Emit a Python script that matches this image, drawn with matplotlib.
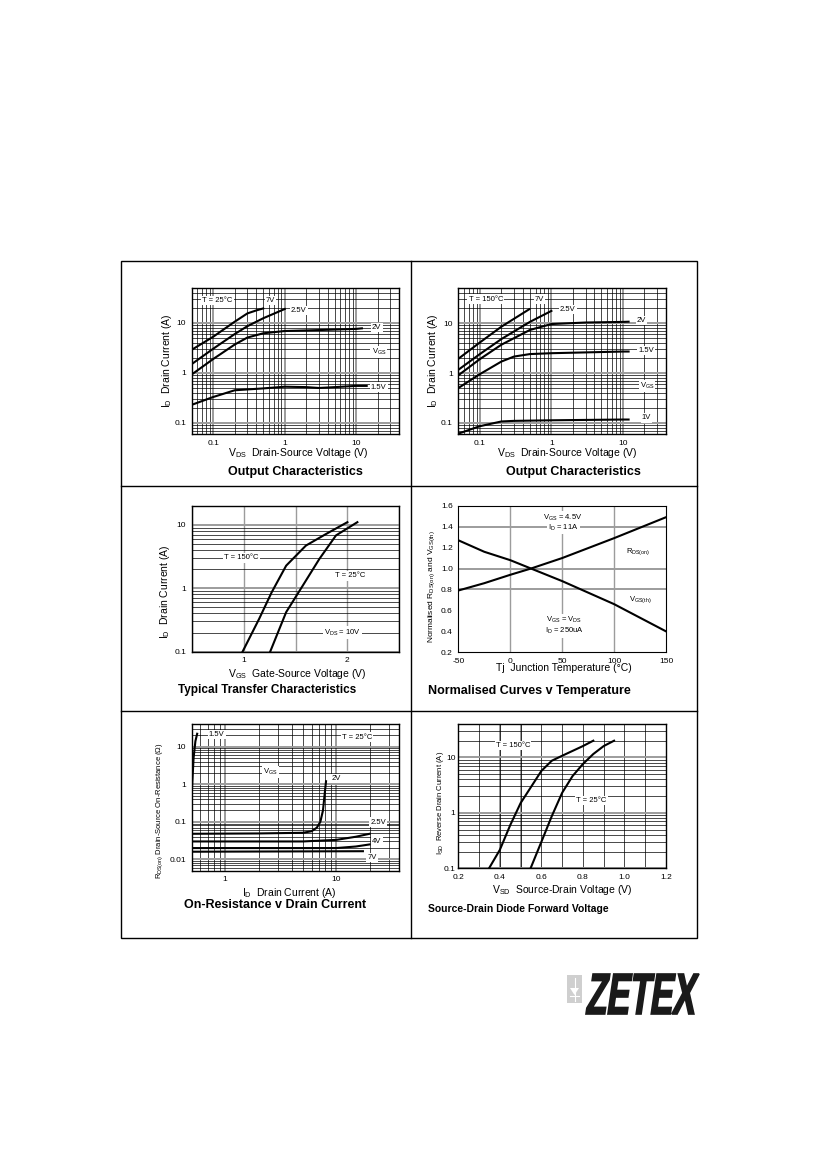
import numpy as np
import matplotlib
matplotlib.use('Agg')
import matplotlib.pyplot as plt
from matplotlib.ticker import LogLocator, NullFormatter, MultipleLocator
from matplotlib.textpath import TextPath
from matplotlib.patches import PathPatch, Rectangle, Polygon
from matplotlib.font_manager import FontProperties
from matplotlib.transforms import Affine2D

plt.rcParams['font.family'] = ['Liberation Sans', 'DejaVu Sans']
plt.rcParams['mathtext.fontset'] = 'custom'
plt.rcParams['mathtext.rm'] = 'Liberation Sans'
plt.rcParams['mathtext.default'] = 'regular'
plt.rcParams['axes.unicode_minus'] = False

# ---- Output characteristics, T = 25C ----
out25_7v_x = [0.05, 0.1, 0.2, 0.3, 0.4, 0.5]
out25_7v_y = [2.9, 5.3, 10.6, 15.5, 17.8, 19.5]
out25_25v_x = [0.05, 0.1, 0.2, 0.3, 0.5, 1.0]
out25_25v_y = [1.5, 3.05, 6.0, 8.6, 12.4, 19.0]
out25_2v_x = [0.05, 0.1, 0.2, 0.3, 0.5, 1.0, 3.0, 10.0, 12.0]
out25_2v_y = [0.93, 1.9, 3.7, 5.1, 6.2, 6.9, 7.2, 7.6, 7.8]
out25_15v_x = [0.05, 0.1, 0.2, 0.5, 1.0, 2.0, 3.0, 5.0, 10.0, 14.0]
out25_15v_y = [0.23, 0.33, 0.45, 0.49, 0.53, 0.52, 0.50, 0.52, 0.55, 0.55]

# ---- Output characteristics, T = 150C ----
out150_7v_x = [0.05, 0.1, 0.2, 0.49]
out150_7v_y = [1.93, 4.1, 8.5, 19.0]
out150_25v_x = [0.05, 0.1, 0.2, 0.5, 1.0]
out150_25v_y = [1.16, 2.4, 4.8, 10.6, 17.6]
out150_2v_x = [0.05, 0.1, 0.2, 0.5, 1.0, 3.0, 10.0, 12.0]
out150_2v_y = [0.9, 1.9, 3.7, 7.3, 9.6, 10.3, 10.6, 10.7]
out150_15v_x = [0.05, 0.1, 0.2, 0.3, 0.5, 1.0, 10.0, 12.0]
out150_15v_y = [0.5, 0.95, 1.7, 2.14, 2.4, 2.5, 2.7, 2.7]
out150_1v_x = [0.05, 0.1, 0.2, 0.3, 1.0, 10.0, 12.0]
out150_1v_y = [0.061, 0.086, 0.107, 0.11, 0.113, 0.117, 0.117]

# ---- Transfer characteristics ----
tr150_vgs = [0.99, 1.15, 1.27, 1.41, 1.6, 1.79, 2.0]
tr150_id = [0.1, 0.33, 0.86, 2.27, 4.7, 7.1, 11.0]
tr25_vgs = [1.256, 1.41, 1.57, 1.73, 1.89, 2.096]
tr25_id = [0.1, 0.42, 1.1, 2.9, 6.8, 11.0]

# ---- Normalised curves v temperature ----
tj = [-50, -25, 0, 20, 50, 100, 150]
rds_norm = [0.79, 0.86, 0.94, 1.0, 1.1, 1.29, 1.49]
vth_norm = [1.27, 1.16, 1.08, 1.0, 0.88, 0.66, 0.40]

# ---- On-resistance v drain current ----
ron_15v_id = [0.5, 0.52, 0.54, 0.56]
ron_15v_r = [0.55, 5.0, 14.0, 22.0]
ron_2v_id = [0.5, 2.0, 5.0, 6.0, 6.7, 7.2, 7.6, 7.9, 8.1]
ron_2v_r = [0.048, 0.049, 0.051, 0.056, 0.07, 0.1, 0.2, 0.6, 1.2]
ron_25v_id = [0.5, 5.0, 10.0, 15.0, 20.0]
ron_25v_r = [0.03, 0.03, 0.033, 0.04, 0.048]
ron_4v_id = [0.5, 10.0, 15.0, 20.0]
ron_4v_r = [0.02, 0.02, 0.022, 0.025]
ron_7v_id = [0.5, 17.4]
ron_7v_r = [0.016, 0.0165]

# ---- Source-drain diode forward voltage ----
sd150_v = [0.348, 0.4, 0.45, 0.5, 0.6, 0.65, 0.7, 0.8, 0.85]
sd150_i = [0.1, 0.215, 0.6, 1.5, 5.7, 8.7, 10.7, 16.0, 20.0]
sd25_v = [0.548, 0.6, 0.65, 0.7, 0.75, 0.8, 0.85, 0.9, 0.95]
sd25_i = [0.1, 0.3, 0.87, 2.3, 4.6, 7.6, 11.5, 16.0, 20.0]

W, H = 827, 1169
fig = plt.figure(figsize=(W / 100, H / 100), dpi=100)

def box(l, t, r, b):
    return [l / W, 1 - b / H, (r - l) / W, (b - t) / H]

def ftext(x, y, s, **kw):
    fig.text(x / W, 1 - y / H, s, **kw)

LW = 1.5
GRAY = '#9c9c9c'
TICK = 6
lab = dict(fontsize=5.5, ha='center', va='center',
           bbox=dict(boxstyle='square,pad=0.15', fc='white', ec='none'))

def style_log(ax, logx=True):
    ax.set_yscale('log')
    ax.yaxis.set_minor_locator(LogLocator(base=10, subs=np.arange(2, 10)))
    ax.yaxis.set_minor_formatter(NullFormatter())
    if logx:
        ax.set_xscale('log')
        ax.xaxis.set_minor_locator(LogLocator(base=10, subs=np.arange(2, 10)))
        ax.xaxis.set_minor_formatter(NullFormatter())
    ax.grid(which='minor', color='black', lw=0.5)
    ax.grid(which='major', color=GRAY, lw=1.4)
    ax.set_axisbelow(True)
    ax.tick_params(which='both', length=0, labelsize=TICK, pad=4)
    for s in ax.spines.values():
        s.set_linewidth(1.0)

# background: frame + logo
bg = fig.add_axes([0, 0, 1, 1], zorder=-5)
bg.set_xlim(0, W)
bg.set_ylim(H, 0)
bg.axis('off')
bg.add_patch(Rectangle((121, 261), 576, 677, fill=False, ec='black', lw=1.0))
bg.plot([410.5, 410.5], [261, 938], color='black', lw=1.0)
bg.plot([121, 697], [486, 486], color='black', lw=1.0)
bg.plot([121, 697], [711, 711], color='black', lw=1.0)

# ---------- panel 1 ----------
ax1 = fig.add_axes(box(191.7, 288, 399.3, 434))
style_log(ax1)
ax1.plot(out25_7v_x, out25_7v_y, color='black', lw=LW)
ax1.plot(out25_25v_x, out25_25v_y, color='black', lw=LW)
ax1.plot(out25_2v_x, out25_2v_y, color='black', lw=LW)
ax1.plot(out25_15v_x, out25_15v_y, color='black', lw=LW)
ax1.set_xlim(0.05, 40)
ax1.set_ylim(0.06, 50)
ax1.set_xticks([0.1, 1, 10], ['0.1', '1', '10'])
ax1.set_yticks([0.1, 1, 10], ['0.1', '1', '10'])
ax1.text(0.114, 28, 'T = 25°C', **lab)
ax1.text(0.635, 28, '7V', **lab)
ax1.text(1.58, 17.7, '2.5V', **lab)
ax1.text(19.3, 8.2, '2V', **lab)
ax1.text(20.7, 2.63, 'V$_{GS}$', **lab)
ax1.text(20.7, 0.52, '1.5V', **lab)
ftext(298, 453, 'V$_{DS}$  Drain-Source Voltage (V)', fontsize=7.5, ha='center', va='center')
ftext(295, 471.5, 'Output Characteristics', fontsize=9, fontweight='bold', ha='center', va='center')
ftext(166.7, 361, 'I$_{D}$  Drain Current (A)', fontsize=7.5, rotation=90, ha='center', va='center')

# ---------- panel 2 ----------
ax2 = fig.add_axes(box(458.3, 288.3, 666, 434))
style_log(ax2)
ax2.plot(out150_7v_x, out150_7v_y, color='black', lw=LW)
ax2.plot(out150_25v_x, out150_25v_y, color='black', lw=LW)
ax2.plot(out150_2v_x, out150_2v_y, color='black', lw=LW)
ax2.plot(out150_15v_x, out150_15v_y, color='black', lw=LW)
ax2.plot(out150_1v_x, out150_1v_y, color='black', lw=LW)
ax2.set_xlim(0.05, 40)
ax2.set_ylim(0.06, 50)
ax2.set_xticks([0.1, 1, 10], ['0.1', '1', '10'])
ax2.set_yticks([0.1, 1, 10], ['0.1', '1', '10'])
ax2.text(0.121, 30.5, 'T = 150°C', **lab)
ax2.text(0.68, 30.5, '7V', **lab)
ax2.text(1.69, 18.5, '2.5V', **lab)
ax2.text(18.1, 11.3, '2V', **lab)
ax2.text(21.3, 2.86, '1.5V', **lab)
ax2.text(21.7, 0.55, 'V$_{GS}$', **lab)
ax2.text(21.3, 0.126, '1V', **lab)
ftext(567, 453, 'V$_{DS}$  Drain-Source Voltage (V)', fontsize=7.5, ha='center', va='center')
ftext(573, 471.5, 'Output Characteristics', fontsize=9, fontweight='bold', ha='center', va='center')
ftext(433.3, 361, 'I$_{D}$  Drain Current (A)', fontsize=7.5, rotation=90, ha='center', va='center')

# ---------- panel 3 ----------
ax3 = fig.add_axes(box(191.7, 505.7, 399.3, 651.7))
style_log(ax3, logx=False)
ax3.plot(tr150_vgs, tr150_id, color='black', lw=LW)
ax3.plot(tr25_vgs, tr25_id, color='black', lw=LW)
ax3.set_xlim(0.5, 2.5)
ax3.set_ylim(0.1, 20)
ax3.set_xticks([1, 2], ['1', '2'])
ax3.xaxis.set_minor_locator(MultipleLocator(0.5))
ax3.grid(axis='x', which='both', color=GRAY, lw=1.0)
ax3.set_yticks([0.1, 1, 10], ['0.1', '1', '10'])
ax3.text(0.978, 3.0, 'T = 150°C', **lab)
ax3.text(2.03, 1.56, 'T = 25°C', **lab)
ax3.text(1.95, 0.2, 'V$_{DS}$ = 10V', **lab)
ftext(297, 674, 'V$_{GS}$  Gate-Source Voltage (V)', fontsize=7.5, ha='center', va='center')
ftext(267, 690, 'Typical Transfer Characteristics', fontsize=8.5, fontweight='bold', ha='center', va='center')
ftext(165, 591.7, 'I$_{D}$  Drain Current (A)', fontsize=7.5, rotation=90, ha='center', va='center')

# ---------- panel 4 ----------
ax4 = fig.add_axes(box(458.3, 505.7, 666, 652.3))
ax4.plot(tj, rds_norm, color='black', lw=LW)
ax4.plot(tj, vth_norm, color='black', lw=LW)
ax4.set_xlim(-50, 150)
ax4.set_ylim(0.2, 1.6)
ax4.set_xticks([-50, 0, 50, 100, 150])
ax4.set_yticks([0.2, 0.4, 0.6, 0.8, 1.0, 1.2, 1.4, 1.6])
for xv in [0, 50, 100]:
    ax4.axvline(xv, color=GRAY, lw=1.0, zorder=0)
for yv in [0.8, 1.0, 1.4]:
    ax4.axhline(yv, color=GRAY, lw=1.4, zorder=0)
ax4.tick_params(length=0, labelsize=TICK, pad=4)
ax4.text(51, 1.485, 'V$_{GS}$ = 4.5V', **lab)
ax4.text(51, 1.39, 'I$_{D}$ = 11A', **lab)
ax4.text(123, 1.16, 'R$_{DS(on)}$', **lab)
ax4.text(125, 0.70, 'V$_{GS(th)}$', **lab)
ax4.text(52, 0.51, 'V$_{GS}$ = V$_{DS}$', **lab)
ax4.text(52, 0.40, 'I$_{D}$ = 250uA', **lab)
ftext(564, 668.3, 'Tj  Junction Temperature (°C)', fontsize=7.5, ha='center', va='center')
ftext(428.3, 691, 'Normalised Curves v Temperature', fontsize=9, fontweight='bold', ha='left', va='center')
ftext(432, 586.7, 'Normalised R$_{DS(on)}$ and V$_{GS(th)}$', fontsize=6, rotation=90, ha='center', va='center')

# ---------- panel 5 ----------
ax5 = fig.add_axes(box(191.7, 724, 399.3, 870.7))
style_log(ax5)
ax5.plot(ron_15v_id, ron_15v_r, color='black', lw=LW)
ax5.plot(ron_2v_id, ron_2v_r, color='black', lw=LW)
ax5.plot(ron_25v_id, ron_25v_r, color='black', lw=LW)
ax5.plot(ron_4v_id, ron_4v_r, color='black', lw=LW)
ax5.plot(ron_7v_id, ron_7v_r, color='black', lw=LW)
ax5.set_xlim(0.5, 37)
ax5.set_ylim(0.005, 40)
ax5.set_xticks([1, 10], ['1', '10'])
ax5.set_yticks([0.01, 0.1, 1, 10], ['0.01', '0.1', '1', '10'])
ax5.text(0.84, 20.6, '1.5V', **lab)
ax5.text(15.4, 18, 'T = 25°C', **lab)
ax5.text(2.54, 2.14, 'V$_{GS}$', **lab)
ax5.text(10.1, 1.45, '2V', **lab)
ax5.text(23.9, 0.098, '2.5V', **lab)
ax5.text(23.3, 0.0295, '4V', **lab)
ax5.text(21.1, 0.0112, '7V', **lab)
ftext(289, 892.7, 'I$_{D}$  Drain Current (A)', fontsize=7.5, ha='center', va='center')
ftext(275, 905, 'On-Resistance v Drain Current', fontsize=9, fontweight='bold', ha='center', va='center')
ftext(159.5, 810.7, 'R$_{DS(on)}$ Drain-Source On-Resistance (Ω)', fontsize=5.5, rotation=90, ha='center', va='center')

# ---------- panel 6 ----------
ax6 = fig.add_axes(box(458.3, 724, 666, 868.3))
style_log(ax6, logx=False)
ax6.plot(sd150_v, sd150_i, color='black', lw=LW)
ax6.plot(sd25_v, sd25_i, color='black', lw=LW)
ax6.set_xlim(0.2, 1.2)
ax6.set_ylim(0.1, 40)
ax6.set_xticks([0.2, 0.4, 0.6, 0.8, 1.0, 1.2], ['0.2', '0.4', '0.6', '0.8', '1.0', '1.2'])
ax6.xaxis.set_minor_locator(MultipleLocator(0.1))
ax6.grid(axis='x', which='both', color='black', lw=0.5)
for xv in [0.4, 0.5]:
    ax6.axvline(xv, color=GRAY, lw=1.4, zorder=0.5)
ax6.set_yticks([0.1, 1, 10], ['0.1', '1', '10'])
ax6.tick_params(axis='y', pad=2)
ax6.text(0.463, 16.3, 'T = 150°C', **lab)
ax6.text(0.842, 1.67, 'T = 25°C', **lab)
ftext(562, 890, 'V$_{SD}$  Source-Drain Voltage (V)', fontsize=7.5, ha='center', va='center')
ftext(428.3, 909.3, 'Source-Drain Diode Forward Voltage', fontsize=7.5, fontweight='bold', ha='left', va='center')
ftext(440, 803, 'I$_{SD}$  Reverse Drain Current (A)', fontsize=5.5, rotation=90, ha='center', va='center')

# ---------- logo ----------
tp = TextPath((0, 0), 'ZETEX', size=100,
              prop=FontProperties(family='Liberation Sans', weight='bold'))
skewed = Affine2D().skew_deg(14, 0).transform_path(tp)
ext = skewed.get_extents()
lx0, ly0, lx1, ly1 = 586, 974, 699, 1014
sx = (lx1 - lx0) / ext.width
sy = (ly1 - ly0) / ext.height
tr = Affine2D().translate(-ext.x0, -ext.y0).scale(sx, -sy).translate(lx0, ly1)
bg.add_patch(PathPatch(tr.transform_path(skewed), fc='#1a1a1a', ec='#1a1a1a', lw=1.2))
bg.add_patch(Rectangle((567, 975), 15, 28, fc='#cfcfcf', ec='none'))
bg.add_patch(Polygon([[570, 988], [579, 988], [574.5, 995]], closed=True, fc='white', ec='none'))
bg.plot([574.5, 574.5], [978, 1001], color='white', lw=0.8)
bg.plot([570, 579], [996, 996], color='white', lw=0.8)

fig.savefig('out.png', dpi=100)
